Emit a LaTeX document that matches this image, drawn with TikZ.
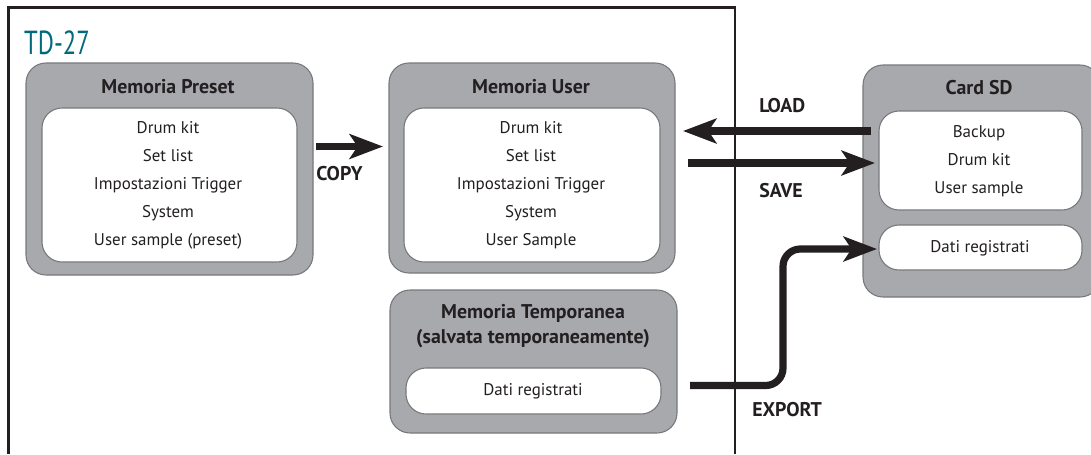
\documentclass[tikz,border=0pt]{standalone}
\usepackage{fontspec}
\setmainfont{PT Sans}
\usetikzlibrary{arrows.meta}
\definecolor{panelgray}{HTML}{A7A9AC}
\definecolor{edgegray}{HTML}{77787B}
\definecolor{ink}{HTML}{231F20}
\definecolor{teal27}{HTML}{00697A}
\newcommand{\pxbox}[6]{% name, style, x1, y1, x2, y2
  \node[#2, minimum width={(#5-#3)*0.75pt}, minimum height={(#6-#4)*0.75pt}] (#1) at ({(#3+#5)/2},{(#4+#6)/2}) {};}
\tikzset{
  x=0.75pt, y=-0.75pt,
  panel/.style={draw=edgegray, line width=0.8pt, fill=panelgray, rounded corners=15pt, inner sep=0pt, outer sep=0pt},
  slot/.style={draw=edgegray, line width=0.8pt, fill=white, rounded corners=15pt, inner sep=0pt, outer sep=0pt},
  head/.style={font=\fontsize{14.9pt}{18.2pt}\selectfont\bfseries, text=ink, align=center, inner sep=0pt},
  items/.style={font=\fontsize{12.7pt}{21pt}\selectfont, text=ink, align=center, inner sep=0pt},
  oplabel/.style={font=\fontsize{14.9pt}{15pt}\selectfont\bfseries, text=ink, anchor=west, inner sep=0pt},
  flow/.style={draw=ink, line width=5.4pt, -{Stealth[length=25pt, width=18.5pt, inset=6pt]}},
}
\begin{document}
\begin{tikzpicture}
\useasboundingbox (0,0) rectangle (1091,454);
\coordinate (frameA) at (8.5,454);
\coordinate (frameB) at (8.5,7.5);
\coordinate (frameC) at (735,7.5);
\coordinate (frameD) at (735,454);
\draw[ink, line width=2pt] (frameA) -- (frameB) -- (frameC) -- (frameD);
\node[text=teal27, inner sep=0pt] (model) at (57,43) {\scalebox{0.74}[1]{\fontsize{25pt}{30pt}\selectfont TD-27}};

\pxbox{presetP}{panel}{26}{63}{313}{275}
\pxbox{presetS}{slot}{42}{108}{297}{262}
\node[head] (presetT) at (168,87) {Memoria Preset};
\node[items] (presetL) at (168,185.5) {Drum kit\\Set list\\Impostazioni Trigger\\System\\User sample (preset)};

\pxbox{userP}{panel}{389}{63}{675}{273}
\pxbox{userS}{slot}{404}{108}{660}{262}
\node[head] (userT) at (531,87) {Memoria User};
\node[items] (userL) at (531,185.5) {Drum kit\\Set list\\Impostazioni Trigger\\System\\User Sample};

\pxbox{tempP}{panel}{390}{290}{677}{433}
\pxbox{tempS}{slot}{406}{368}{661}{414}
\node[head] (tempT) at (533,326) {Memoria Temporanea\\(salvata temporaneamente)};
\node[items] (tempL) at (533,391) {Dati registrati};

\pxbox{sdP}{panel}{863}{65}{1100}{297}
\pxbox{sdS}{slot}{879}{111}{1082}{210}
\pxbox{sdR}{slot}{879}{225}{1082}{270}
\node[head] (sdT) at (979,87.5) {Card SD};
\node[items] (sdL) at (979,161) {Backup\\Drum kit\\User sample};
\node[items] (sdD) at (980,248) {Dati registrati};

\coordinate (copyA) at (316,146.5);
\coordinate (copyB) at (383,146.5);
\coordinate (loadA) at (871,131);
\coordinate (loadB) at (683,131);
\coordinate (saveA) at (688,163);
\coordinate (saveB) at (875,163);
\coordinate (expA) at (690,385.5);
\coordinate (expM1) at (783,385.5);
\coordinate (expM2) at (783,249);
\coordinate (expB) at (877,249);
\draw[flow] (copyA) -- (copyB);
\draw[flow] (loadA) -- (loadB);
\draw[flow] (saveA) -- (saveB);
\draw[flow, rounded corners=13pt] (expA) -- (expM1) -- (expM2) -- (expB);

\node[oplabel] (copyT) at (316,174) {COPY};
\node[oplabel] (loadT) at (759,106) {LOAD};
\node[oplabel] (saveT) at (759,191) {SAVE};
\node[oplabel] (expT) at (752,410) {EXPORT};
\end{tikzpicture}
\end{document}
